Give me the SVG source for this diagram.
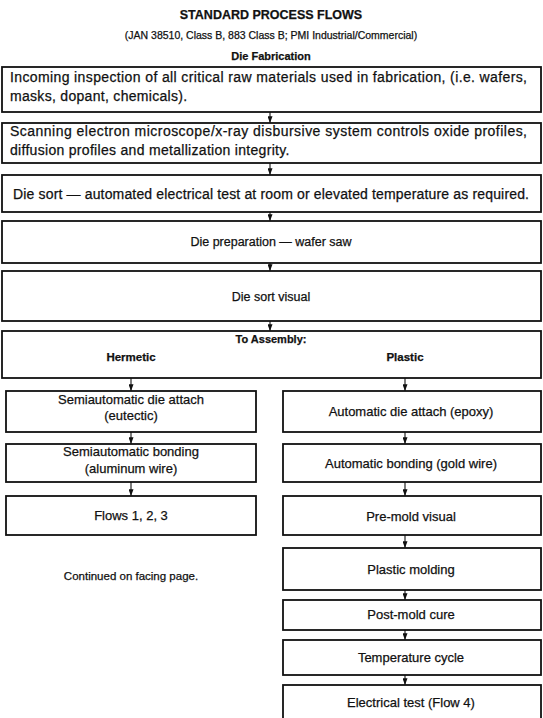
<svg xmlns="http://www.w3.org/2000/svg" width="543" height="718" viewBox="0 0 543 718">
<style>
.bx{fill:#fff;stroke:#111;stroke-width:1.8}
.t{font-family:"Liberation Sans",Arial,Helvetica,sans-serif;font-size:13px;fill:#111;stroke:#111;stroke-width:0.25}
.u{font-size:14px}
.c{text-anchor:middle}
.b{font-weight:bold}
.cn{stroke:#111;stroke-width:1.1;fill:none;marker-end:url(#ah)}
</style>
<defs>
<marker id="ah" viewBox="0 0 8 6" refX="8" refY="3" markerWidth="7" markerHeight="5" markerUnits="userSpaceOnUse" orient="auto">
<path d="M0,0 L8,3 L0,6 z" fill="#111"/>
</marker>
</defs>
<rect width="543" height="718" fill="#fff"/>
<g id="header">
<text class="t c b" x="271" y="19" style="font-size:12.5px">STANDARD PROCESS FLOWS</text>
<text class="t c" x="271" y="39" style="font-size:10.5px">(JAN 38510, Class B, 883 Class B; PMI Industrial/Commercial)</text>
<text class="t c b" x="271" y="60" style="font-size:11px">Die Fabrication</text>
</g>
<g id="connectors">
<line class="cn" x1="270" y1="112" x2="270" y2="123"/>
<line class="cn" x1="270" y1="163" x2="270" y2="175"/>
<line class="cn" x1="270" y1="212" x2="270" y2="221"/>
<line class="cn" x1="270" y1="263" x2="270" y2="271"/>
<line class="cn" x1="270" y1="321" x2="270" y2="331"/>
<line class="cn" x1="131" y1="378" x2="131" y2="391"/>
<line class="cn" x1="405" y1="378" x2="405" y2="391"/>
<line class="cn" x1="131" y1="432" x2="131" y2="444"/>
<line class="cn" x1="131" y1="482" x2="131" y2="496"/>
<line class="cn" x1="405" y1="432" x2="405" y2="444"/>
<line class="cn" x1="405" y1="482" x2="405" y2="496"/>
<line class="cn" x1="405" y1="535" x2="405" y2="548"/>
<line class="cn" x1="405" y1="590" x2="405" y2="600"/>
<line class="cn" x1="405" y1="630" x2="405" y2="640"/>
<line class="cn" x1="405" y1="675" x2="405" y2="685"/>
</g>
<g id="n1"><rect class="bx" x="2" y="67" width="539" height="45"/>
<text class="t u" x="10" y="82" textLength="517" lengthAdjust="spacing">Incoming inspection of all critical raw materials used in fabrication, (i.e. wafers,</text>
<text class="t u" x="10" y="101" style="letter-spacing:0.3px">masks, dopant, chemicals).</text></g>
<g id="n2"><rect class="bx" x="2" y="123" width="539" height="40"/>
<text class="t u" x="10" y="136" textLength="517" lengthAdjust="spacing">Scanning electron microscope/x-ray disbursive system controls oxide profiles,</text>
<text class="t u" x="10" y="155" style="letter-spacing:0.3px">diffusion profiles and metallization integrity.</text></g>
<g id="n3"><rect class="bx" x="2" y="175" width="539" height="37"/>
<text class="t u" x="13" y="199" textLength="516" lengthAdjust="spacing">Die sort — automated electrical test at room or elevated temperature as required.</text></g>
<g id="n4"><rect class="bx" x="2" y="221" width="539" height="42"/>
<text class="t c" x="271" y="246" style="font-size:12.5px">Die preparation — wafer saw</text></g>
<g id="n5"><rect class="bx" x="2" y="271" width="539" height="50"/>
<text class="t c" x="271" y="301" style="font-size:12.5px">Die sort visual</text></g>
<g id="n6"><rect class="bx" x="2" y="331" width="539" height="47"/>
<text class="t c b" x="271" y="343" style="font-size:11px">To Assembly:</text>
<text class="t c b" x="131" y="361" style="font-size:11.5px">Hermetic</text>
<text class="t c b" x="405" y="361" style="font-size:11.5px">Plastic</text></g>
<g id="h1"><rect class="bx" x="6" y="391" width="250" height="41"/>
<text class="t c" x="131" y="404">Semiautomatic die attach</text>
<text class="t c" x="131" y="420">(eutectic)</text></g>
<g id="h2"><rect class="bx" x="6" y="444" width="250" height="38"/>
<text class="t c" x="131" y="456">Semiautomatic bonding</text>
<text class="t c" x="131" y="473">(aluminum wire)</text></g>
<g id="h3"><rect class="bx" x="6" y="496" width="250" height="39"/>
<text class="t c" x="131" y="520">Flows 1, 2, 3</text></g>
<g id="note"><text class="t c" x="131" y="580" style="font-size:11.5px">Continued on facing page.</text></g>
<g id="p1"><rect class="bx" x="283" y="391" width="258" height="41"/>
<text class="t c" x="411" y="416">Automatic die attach (epoxy)</text></g>
<g id="p2"><rect class="bx" x="283" y="444" width="258" height="38"/>
<text class="t c" x="411" y="468">Automatic bonding (gold wire)</text></g>
<g id="p3"><rect class="bx" x="283" y="496" width="258" height="39"/>
<text class="t c" x="411" y="521">Pre-mold visual</text></g>
<g id="p4"><rect class="bx" x="283" y="548" width="258" height="42"/>
<text class="t c" x="411" y="574">Plastic molding</text></g>
<g id="p5"><rect class="bx" x="283" y="600" width="258" height="30"/>
<text class="t c" x="411" y="619">Post-mold cure</text></g>
<g id="p6"><rect class="bx" x="283" y="640" width="258" height="35"/>
<text class="t c" x="411" y="662">Temperature cycle</text></g>
<g id="p7"><rect class="bx" x="283" y="685" width="258" height="43"/>
<text class="t c" x="411" y="707">Electrical test (Flow 4)</text></g>
</svg>
